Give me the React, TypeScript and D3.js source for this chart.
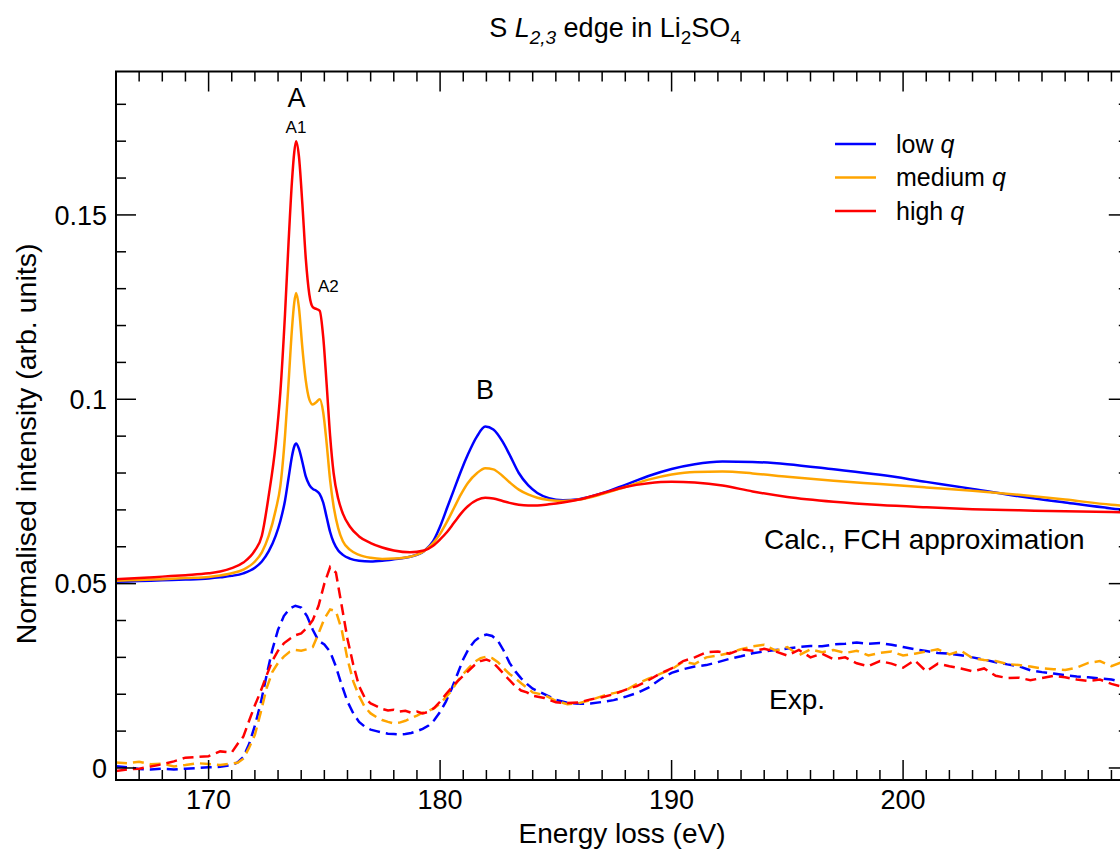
import React from "react";
import * as d3 from "d3";

// ---------- data ----------
const calcEnergy = [
  166, 167, 168, 169, 170, 170.5, 171, 171.5, 172, 172.3, 172.6, 172.9, 173.1, 173.3, 173.45, 173.6, 173.7, 173.78,
  173.9, 174.05, 174.2, 174.35, 174.5, 174.65, 174.8, 174.95, 175.1, 175.25, 175.4, 175.6, 175.8, 176.1, 176.5, 177.0,
  177.5, 178.0, 178.7, 179.3, 179.7, 180.0, 180.3, 180.6, 180.9, 181.2, 181.6, 181.95, 182.3, 182.7, 183.0, 183.4,
  183.8, 184.2, 184.7, 185.3, 186.0, 187.0, 188.0, 189.0, 190.0, 191.0, 192.2, 193.5, 195.0, 197.0, 199.0, 201.0,
  203.0, 205.0, 207.0, 209.0, 210.0,
];

const lowQCalc = [
  0.0505, 0.0507, 0.0509, 0.0511, 0.0514, 0.0517, 0.0521, 0.0528, 0.0543, 0.056, 0.0588, 0.063, 0.067, 0.0725, 0.0785,
  0.0845, 0.0872, 0.088, 0.0866, 0.083, 0.079, 0.0768, 0.0757, 0.0752, 0.0743, 0.072, 0.068, 0.064, 0.0612, 0.059,
  0.0578, 0.0568, 0.0562, 0.056, 0.0562, 0.0566, 0.0573, 0.0588, 0.0615, 0.0655, 0.0705, 0.0755, 0.0805, 0.085, 0.09,
  0.0926, 0.0918, 0.0885, 0.085, 0.08, 0.0767, 0.0746, 0.0732, 0.0726, 0.0729, 0.0745, 0.0768, 0.0792, 0.0811, 0.0824,
  0.0831, 0.083, 0.0824, 0.081, 0.0795, 0.0776, 0.0757, 0.0737, 0.072, 0.0704, 0.0698,
];

const mediumQCalc = [
  0.0508, 0.051, 0.0512, 0.0515, 0.0518, 0.0522, 0.0528, 0.0538, 0.056, 0.0585, 0.063, 0.07, 0.0765, 0.09, 0.104,
  0.119, 0.1262, 0.1288, 0.125, 0.114, 0.105, 0.1, 0.0986, 0.0992, 0.1, 0.0965, 0.088, 0.078, 0.071, 0.065, 0.0615,
  0.0592, 0.0578, 0.057, 0.0567, 0.0568, 0.0573, 0.0588, 0.061, 0.0635, 0.0668, 0.0705, 0.0742, 0.0773, 0.08, 0.0813,
  0.081, 0.0792, 0.0775, 0.0755, 0.0742, 0.0733, 0.0727, 0.0724, 0.0728, 0.0743, 0.0762, 0.0782, 0.0796, 0.0803,
  0.0804, 0.0799, 0.079, 0.0779, 0.077, 0.0761, 0.0752, 0.0741, 0.0728, 0.0714, 0.0709,
];

const highQCalc = [
  0.0512, 0.0515, 0.0519, 0.0523, 0.0528, 0.0533, 0.0542, 0.0557, 0.059, 0.063, 0.074, 0.088, 0.102, 0.123, 0.142,
  0.159, 0.167, 0.17, 0.166, 0.153, 0.138, 0.1285, 0.125, 0.1245, 0.124, 0.117, 0.104, 0.09, 0.08, 0.073, 0.069,
  0.0655, 0.0628, 0.061, 0.0598, 0.059, 0.0585, 0.059, 0.0603, 0.062, 0.064, 0.0665, 0.069, 0.071, 0.0727, 0.0733,
  0.0731, 0.0724, 0.0719, 0.0714, 0.0712, 0.0712, 0.0715, 0.072, 0.0728, 0.0745, 0.0762, 0.0772, 0.0776, 0.0774,
  0.0766, 0.075, 0.0735, 0.0722, 0.0713, 0.0707, 0.0702, 0.0699, 0.0696, 0.0694, 0.0693,
];

const expEnergy = [
  166, 166.5, 167, 167.5, 168, 168.5, 169, 169.5, 170, 170.5, 171,
  171.25, 171.5, 171.75, 172, 172.25, 172.5, 172.75, 173, 173.25, 173.5, 173.75, 174, 174.25, 174.5, 174.75, 175,
  175.25, 175.5, 175.75, 176, 176.25, 176.5, 176.75, 177, 177.25, 177.5, 177.75, 178, 178.25, 178.5, 178.75, 179,
  179.25, 179.5, 179.75, 180, 180.25, 180.5, 180.75, 181, 181.25, 181.5, 181.75, 182, 182.25, 182.5, 182.75, 183,
  183.25, 183.5, 183.75, 184,
  184.5, 185, 185.5, 186, 186.5, 187, 187.5, 188, 188.5, 189, 189.5, 190, 190.5, 191, 191.5, 192, 192.5, 193, 193.5,
  194, 194.5, 195, 195.5, 196, 196.5, 197, 197.5, 198, 198.5, 199, 199.5, 200, 200.5, 201, 201.5, 202, 202.5, 203,
  203.5, 204, 204.5, 205, 205.5, 206, 206.5, 207, 207.5, 208, 208.5, 209, 209.5, 210,
];

const lowQExp = [
  0.0005, 0.0002, -0.0003, -0.0004, -0.0002, -0.0004, -0.0002, 0.0, 0.0002, 0.0003, 0.0008,
  0.0015, 0.003, 0.0065, 0.0115, 0.0175, 0.025, 0.032, 0.0375, 0.0412, 0.0432, 0.044, 0.0435, 0.0412, 0.0375, 0.0345,
  0.0335, 0.0315, 0.0275, 0.0225, 0.018, 0.0148, 0.0125, 0.0112, 0.0104, 0.01, 0.0096, 0.0093, 0.0092, 0.0091,
  0.0092, 0.0095, 0.01, 0.0106, 0.0115, 0.013, 0.0152, 0.018, 0.0215, 0.0255, 0.0295, 0.0325, 0.0345, 0.0357, 0.0362,
  0.0358, 0.0345, 0.0318, 0.0285, 0.0262, 0.0243, 0.0228, 0.0215,
  0.02, 0.0185, 0.0177, 0.0174, 0.0175, 0.0179, 0.0184, 0.0193, 0.0203, 0.0218, 0.024, 0.0258, 0.0268, 0.0275,
  0.0279, 0.0287, 0.0296, 0.0303, 0.0311, 0.0316, 0.032, 0.0324, 0.0328, 0.0331, 0.033, 0.0335, 0.0337, 0.034,
  0.0337, 0.0339, 0.0334, 0.0328, 0.0322, 0.0317, 0.0312, 0.031, 0.0306, 0.03, 0.0294, 0.0287, 0.0281, 0.0276,
  0.0265, 0.026, 0.0256, 0.0252, 0.0248, 0.0246, 0.0243, 0.024, 0.0232, 0.0228,
];

const mediumQExp = [
  0.0015, 0.0013, 0.0017, 0.001, 0.0012, 0.0004, 0.0008, 0.0013, 0.0011, 0.0008, 0.0012,
  0.0014, 0.0025, 0.0055, 0.009, 0.015, 0.0215, 0.026, 0.0285, 0.0302, 0.0315, 0.032, 0.0318, 0.0322, 0.0328, 0.0365,
  0.0405, 0.043, 0.0425, 0.0375, 0.0295, 0.0235, 0.0195, 0.0165, 0.0148, 0.0138, 0.013, 0.0125, 0.0121, 0.0123,
  0.0128, 0.0135, 0.0142, 0.015, 0.0155, 0.0162, 0.0175, 0.0192, 0.021, 0.0235, 0.0255, 0.0272, 0.0288, 0.0298,
  0.0302, 0.0298, 0.0287, 0.027, 0.0255, 0.0243, 0.023, 0.0218, 0.0205,
  0.0198, 0.0182, 0.0173, 0.0176, 0.0184, 0.0195, 0.0203, 0.021, 0.0228, 0.0242, 0.0255, 0.0268, 0.0288, 0.0282,
  0.03, 0.0305, 0.0312, 0.0322, 0.033, 0.0334, 0.0318, 0.0328, 0.0306, 0.0322, 0.0314, 0.032, 0.0312, 0.0318,
  0.0305, 0.0312, 0.0316, 0.0305, 0.031, 0.0316, 0.0322, 0.0308, 0.0318, 0.0298, 0.0293, 0.029, 0.0282, 0.0279,
  0.0275, 0.027, 0.0268, 0.0266, 0.0272, 0.0285, 0.029, 0.0276, 0.0288, 0.0284,
];

const highQExp = [
  -0.0008, -0.0004, -0.0002, 0.0004, 0.001, 0.0018, 0.0028, 0.003, 0.0032, 0.0045, 0.0042,
  0.0065, 0.0085, 0.0128, 0.017, 0.0208, 0.025, 0.029, 0.0318, 0.0338, 0.035, 0.036, 0.0365, 0.038, 0.0401, 0.044,
  0.05, 0.0545, 0.053, 0.044, 0.035, 0.028, 0.0222, 0.019, 0.0175, 0.0168, 0.016, 0.0156, 0.0158, 0.0153, 0.0155,
  0.015, 0.0153, 0.0148, 0.0152, 0.0163, 0.018, 0.02, 0.0218, 0.0235, 0.025, 0.0265, 0.028, 0.029, 0.0294, 0.0288,
  0.0272, 0.0255, 0.0238, 0.0222, 0.021, 0.0205, 0.0196,
  0.019, 0.0178, 0.0176, 0.0178, 0.0186, 0.0192, 0.02, 0.0212, 0.0222, 0.0238, 0.0256, 0.027, 0.029, 0.03, 0.0314,
  0.0316, 0.031, 0.0322, 0.0318, 0.0323, 0.0316, 0.0305, 0.032, 0.03, 0.031, 0.0295, 0.03, 0.0284, 0.0276, 0.029,
  0.0283, 0.0272, 0.0292, 0.0262, 0.0283, 0.0276, 0.027, 0.0262, 0.027, 0.025, 0.0244, 0.0245, 0.0238, 0.0244,
  0.025, 0.0246, 0.024, 0.0236, 0.024, 0.0228, 0.022, 0.0218,
];

const seriesLabels = ["low", "medium", "high"];
const seriesColors = ["#0000ff", "#ffa500", "#ff0000"];
const xMajorTicks = [170, 180, 190, 200];
const yMajorTicks = [0, 0.05, 0.1, 0.15];
const yTickLabels = ["0", "0.05", "0.1", "0.15"];

const FONT = "'Liberation Sans', Arial, Helvetica, sans-serif";

export default function App() {
  const W = 1120;
  const H = 849;
  const left = 116;
  const right = 1128.8;
  const top = 71.5;
  const bottom = 780;

  const x = d3.scaleLinear().domain([166, 209.75]).range([left, right]);
  const y = d3.scaleLinear().domain([-0.00326, 0.1889]).range([bottom, top]);

  const xMinor = d3.range(166, 210, 1).filter((v) => !xMajorTicks.includes(v));
  const yMinor = d3.range(0, 19, 1).map((v) => v / 100).filter((v) => !yMajorTicks.some((m) => Math.abs(m - v) < 1e-9));

  const calcLine = (vals: number[]) =>
    d3
      .line<number>()
      .x((_, i) => x(calcEnergy[i]))
      .y((d) => y(d))
      .curve(d3.curveMonotoneX)(vals) || "";
  const expLine = (vals: number[]) =>
    d3
      .line<number>()
      .x((_, i) => x(expEnergy[i]))
      .y((d) => y(d))
      .curve(d3.curveLinear)(vals) || "";

  const calcSeries = [lowQCalc, mediumQCalc, highQCalc];
  const expSeries = [lowQExp, mediumQExp, highQExp];

  const MAJ = 20;
  const MIN = 10;

  return (
    <svg
      width={W}
      height={H}
      style={{ position: "absolute", left: 0, top: 0, display: "block", background: "#fff" }}
      fontFamily={FONT}
    >
      <defs>
        <clipPath id="plotclip">
          <rect x={left} y={top} width={right - left} height={bottom - top} />
        </clipPath>
      </defs>

      {/* title */}
      <text x={615} y={37} textAnchor="middle" fontSize={27} fill="#000">
        <tspan>S </tspan>
        <tspan fontStyle="italic">L</tspan>
        <tspan fontStyle="italic" fontSize={19} dy={7}>2,3</tspan>
        <tspan dy={-7}> edge in Li</tspan>
        <tspan fontSize={19} dy={7}>2</tspan>
        <tspan dy={-7}>SO</tspan>
        <tspan fontSize={19} dy={7}>4</tspan>
      </text>

      {/* data */}
      <g clipPath="url(#plotclip)">
        {expSeries.map((vals, k) => (
          <path
            key={"e" + k}
            d={expLine(vals)}
            fill="none"
            stroke={seriesColors[k]}
            strokeWidth={2.5}
            strokeDasharray="11 6"
          />
        ))}
        {calcSeries.map((vals, k) => (
          <path key={"c" + k} d={calcLine(vals)} fill="none" stroke={seriesColors[k]} strokeWidth={2.5} />
        ))}
      </g>

      {/* frame */}
      <rect x={left} y={top} width={right - left} height={bottom - top} fill="none" stroke="#000" strokeWidth={2} />

      {/* ticks */}
      <g stroke="#000" strokeWidth={1.5}>
        {xMajorTicks.map((v) => (
          <g key={"xm" + v}>
            <line x1={x(v)} x2={x(v)} y1={bottom} y2={bottom - MAJ} />
            <line x1={x(v)} x2={x(v)} y1={top} y2={top + MAJ} />
          </g>
        ))}
        {xMinor.map((v) => (
          <g key={"xn" + v}>
            <line x1={x(v)} x2={x(v)} y1={bottom} y2={bottom - MIN} />
            <line x1={x(v)} x2={x(v)} y1={top} y2={top + MIN} />
          </g>
        ))}
        {yMajorTicks.map((v) => (
          <g key={"ym" + v}>
            <line x1={left} x2={left + MAJ} y1={y(v)} y2={y(v)} />
            <line x1={right} x2={right - MAJ} y1={y(v)} y2={y(v)} />
          </g>
        ))}
        {yMinor.map((v) => (
          <g key={"yn" + v}>
            <line x1={left} x2={left + MIN} y1={y(v)} y2={y(v)} />
            <line x1={right} x2={right - MIN} y1={y(v)} y2={y(v)} />
          </g>
        ))}
      </g>

      {/* tick labels */}
      <g fontSize={27} fill="#000">
        {xMajorTicks.map((v) => (
          <text key={"xl" + v} x={x(v)} y={809} textAnchor="middle">
            {String(v)}
          </text>
        ))}
        {yMajorTicks.map((v, i) => (
          <text key={"yl" + v} x={107} y={y(v) + 9.8} textAnchor="end">
            {yTickLabels[i]}
          </text>
        ))}
      </g>

      {/* axis titles */}
      <text x={622} y={843} textAnchor="middle" fontSize={28} fill="#000">
        Energy loss (eV)
      </text>
      <text transform="translate(36,444) rotate(-90)" textAnchor="middle" fontSize={28.5} fill="#000">
        Normalised intensity (arb. units)
      </text>

      {/* annotations */}
      <text x={296.5} y={107} textAnchor="middle" fontSize={27} fill="#000">A</text>
      <text x={296} y={133} textAnchor="middle" fontSize={17} fill="#000">A1</text>
      <text x={318} y={292} fontSize={17} fill="#000">A2</text>
      <text x={485} y={399} textAnchor="middle" fontSize={27} fill="#000">B</text>
      <text x={764} y={549} fontSize={28} fill="#000">Calc., FCH approximation</text>
      <text x={769} y={709} fontSize={28} fill="#000">Exp.</text>

      {/* legend */}
      {seriesLabels.map((lab, i) => {
        const ly = 144 + i * 33.5;
        return (
          <g key={"lg" + i}>
            <line x1={835} x2={876} y1={ly} y2={ly} stroke={seriesColors[i]} strokeWidth={2.5} />
            <text x={896} y={ly + 8.5} fontSize={25} fill="#000">
              {lab + " "}
              <tspan fontStyle="italic">q</tspan>
            </text>
          </g>
        );
      })}
    </svg>
  );
}
